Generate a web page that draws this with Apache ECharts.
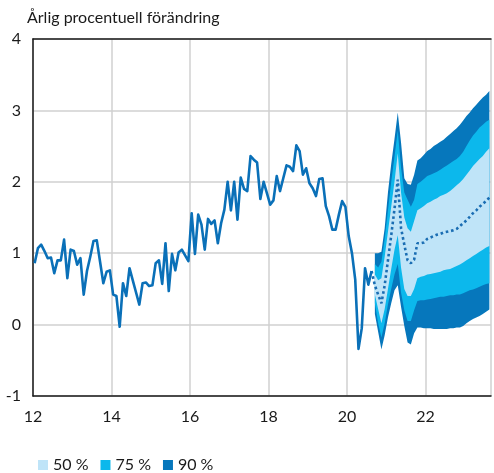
<!DOCTYPE html>
<html><head><meta charset="utf-8">
<script src="https://cdn.jsdelivr.net/npm/echarts@6/dist/echarts.min.js"></script>
<style>html,body{margin:0;padding:0;background:#fff}#c{width:494px;height:473px}</style>
</head><body><div id="c"></div>
<script>
// Outcome: monthly, starting January 2012
const histStartYear = 12, histStartMonth = 0;
const hist = [0.86,1.07,1.12,1.03,0.93,0.94,0.72,0.90,0.90,1.19,0.65,1.05,
1.03,0.84,0.93,0.42,0.75,0.95,1.17,1.18,0.88,0.58,0.74,0.76,
0.42,0.40,-0.03,0.58,0.40,0.79,0.62,0.45,0.28,0.58,0.59,0.54,
0.55,0.86,0.90,0.57,1.14,0.47,0.99,0.76,1.01,1.05,0.97,0.89,
1.56,0.99,1.54,1.40,1.05,1.48,1.41,1.46,1.14,1.42,1.61,2.00,
1.60,2.00,1.47,2.06,1.90,1.87,2.36,2.31,2.27,1.76,2.00,1.84,
1.68,1.74,2.08,1.87,2.05,2.23,2.21,2.15,2.51,2.43,2.10,2.19,
1.98,1.91,1.80,2.04,2.05,1.66,1.52,1.33,1.33,1.54,1.73,1.65,
1.24,1.00,0.63,-0.34,-0.05,0.79,0.56,0.75];
// Median forecast, starting at the last outcome month
const medStart = 103;
const median = [0.75,0.55,0.42,0.30,0.55,0.90,1.25,1.62,2.03,1.35,1.12,0.90,0.86,0.91,1.14,1.14,1.15,1.20,1.22,1.24,1.26,1.27,1.29,1.30,1.31,1.32,1.34,1.38,1.42,1.46,1.51,1.56,1.60,1.65,1.69,1.73,1.78];
// Uncertainty bands, starting the month after the last outcome
const bandStart = 104;
const up90 = [1.00,1.00,1.02,1.35,1.85,2.25,2.60,2.97,2.55,2.05,1.97,1.96,2.10,2.30,2.33,2.38,2.43,2.46,2.50,2.53,2.56,2.59,2.63,2.67,2.71,2.75,2.80,2.86,2.92,2.97,3.03,3.08,3.13,3.18,3.22,3.27];
const up75 = [0.85,0.80,0.88,1.20,1.60,2.00,2.35,2.72,2.20,1.85,1.75,1.65,1.75,1.97,2.00,2.04,2.08,2.10,2.12,2.14,2.17,2.20,2.23,2.26,2.29,2.32,2.36,2.42,2.50,2.58,2.65,2.70,2.76,2.80,2.84,2.87];
const up50 = [0.70,0.62,0.65,0.95,1.30,1.65,2.00,2.40,1.85,1.50,1.35,1.30,1.45,1.60,1.63,1.66,1.70,1.72,1.75,1.77,1.80,1.82,1.84,1.87,1.91,1.95,1.99,2.04,2.10,2.16,2.22,2.27,2.32,2.36,2.42,2.47];
const lo50 = [0.42,0.22,0.02,0.22,0.50,0.78,1.05,1.25,0.80,0.50,0.40,0.40,0.50,0.65,0.67,0.68,0.70,0.71,0.72,0.73,0.74,0.76,0.77,0.78,0.80,0.82,0.84,0.87,0.90,0.93,0.96,0.99,1.02,1.05,1.08,1.10];
const lo75 = [0.30,0.02,-0.18,0.02,0.28,0.50,0.70,0.85,0.45,0.20,0.05,0.05,0.20,0.33,0.34,0.34,0.35,0.36,0.37,0.38,0.39,0.39,0.40,0.41,0.41,0.42,0.42,0.44,0.46,0.48,0.49,0.51,0.53,0.55,0.57,0.58];
const lo90 = [0.15,-0.10,-0.35,-0.15,0.10,0.30,0.48,0.55,0.25,-0.02,-0.25,-0.28,-0.12,-0.04,-0.04,-0.05,-0.05,-0.05,-0.06,-0.06,-0.06,-0.06,-0.06,-0.05,-0.05,-0.04,-0.04,-0.02,0.02,0.05,0.08,0.10,0.12,0.15,0.18,0.21];
const xTicks = [12,14,16,18,20,22];
const xMax = 12 + 140/12;
const legendNames = ['50 %','75 %','90 %'];

const C_LINE = '#0a70b8', C90 = '#0677bc', C75 = '#0cb8ec', C50 = '#bfe4f8';
const FONT = 'Lato';

const monthX = i => histStartYear + (histStartMonth + i + 0.5) / 12;
const histData = hist.map((v,i)=>[monthX(i), v]);
const medData = median.map((v,i)=>[monthX(medStart+i), v]);
const bx = i => monthX(bandStart+i);

function bandSeries(name, lo, hi, color, z) {
  const rows = lo.map((v,i)=>[bx(i), v, hi[i]]);
  return {
    type:'custom', name:name, z:z, silent:true,
    itemStyle:{color:color},
    encode:{x:0, y:[1,2]},
    data: rows,
    renderItem: function(params, api) {
      if (params.dataIndex !== 0) return null;
      const top = rows.map(r => api.coord([r[0], r[2]]));
      const bot = rows.map(r => api.coord([r[0], r[1]])).reverse();
      return {type:'polygon', shape:{points: top.concat(bot)}, style:{fill:color, stroke:null}};
    }
  };
}

const series = [
  bandSeries('90 %', lo90, up90, C90, 1),
  bandSeries('75 %', lo75, up75, C75, 2),
  bandSeries('50 %', lo50, up50, C50, 3),
  {type:'line', name:'median', z:4, data: medData, symbol:'none', silent:true,
    lineStyle:{color:'#1a6db3', width:2.6, type:[2.6,2.8], cap:'butt'}},
  {type:'line', name:'utfall', z:5, data: histData, symbol:'none', silent:true,
    lineStyle:{color:C_LINE, width:2.6, join:'round'}}
];

const chart = echarts.init(document.getElementById('c'), null, {renderer:'canvas'});
chart.setOption({
  animation:false,
  textStyle:{fontFamily:FONT},
  title:{text:'Årlig procentuell förändring', left:22, top:5,
    textStyle:{fontFamily:FONT, fontSize:16, fontWeight:'normal', color:'#1a1a1a'}},
  grid:{left:33, right:0, top:39, bottom:77, containLabel:false},
  legend:{data:legendNames, left:33, top:452, icon:'rect', itemWidth:10, itemHeight:10, itemGap:12,
    textStyle:{fontFamily:FONT, fontSize:16, color:'#1a1a1a'}, selectedMode:false},
  xAxis:[{type:'value', min:12, max:xMax, interval:2,
    axisLine:{show:true, onZero:false, lineStyle:{color:'#1a1a1a', width:1.5}},
    axisTick:{show:false},
    axisLabel:{fontFamily:FONT, fontSize:16, color:'#1a1a1a', margin:13,
      formatter: v => xTicks.indexOf(Math.round(v*1000)/1000) >= 0 ? String(v) : ''},
    splitLine:{show:true, lineStyle:{color:'#d0d0d0', width:1.5}}},
   {type:'value', position:'top', min:12, max:xMax,
    axisLine:{show:true, onZero:false, lineStyle:{color:'#1a1a1a', width:1.5}},
    axisTick:{show:false}, axisLabel:{show:false}, splitLine:{show:false}}],
  yAxis:{type:'value', min:-1, max:4, interval:1,
    axisLine:{show:true, onZero:false, lineStyle:{color:'#1a1a1a', width:1.5}},
    axisTick:{show:false},
    axisLabel:{fontFamily:FONT, fontSize:16, color:'#1a1a1a', margin:12},
    splitLine:{show:true, lineStyle:{color:'#d0d0d0', width:1.5}}},
  series: series
});
</script></body></html>
